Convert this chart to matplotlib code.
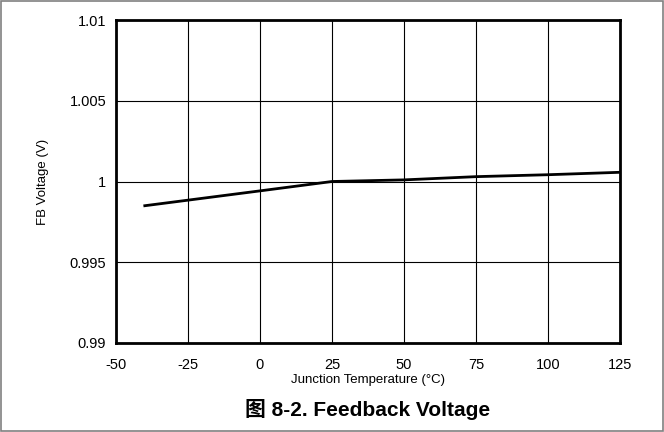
import matplotlib
matplotlib.use("Agg")
import matplotlib.pyplot as plt
from matplotlib.patches import Rectangle

plt.rcParams['font.family'] = ['Liberation Sans', 'Noto Sans CJK SC', 'DejaVu Sans']

temps = [-40, 0, 25, 50, 75, 100, 125]
fb_voltage = [0.9985, 0.99942, 1.0, 1.0001, 1.0003, 1.00042, 1.00057]
xticks = [-50, -25, 0, 25, 50, 75, 100, 125]
yticks = [0.99, 0.995, 1.0, 1.005, 1.01]
ytick_labels = ["0.99", "0.995", "1", "1.005", "1.01"]

fig = plt.figure(figsize=(6.64, 4.32), dpi=100)
ax = fig.add_axes([116/664, 89/432, 504/664, 323/432])

ax.plot(temps, fb_voltage, color='black', lw=2, zorder=3)
ax.set_xlim(-50, 125)
ax.set_ylim(0.99, 1.01)
ax.set_xticks(xticks)
ax.set_xticklabels([str(t) for t in xticks])
ax.set_yticks(yticks)
ax.set_yticklabels(ytick_labels)
ax.grid(True, color='black', lw=0.8)
ax.tick_params(axis='x', length=0, labelsize=10.5, pad=11)
ax.tick_params(axis='y', length=0, labelsize=10.5, pad=7)
for s in ax.spines.values():
    s.set_linewidth(2)
ax.set_xlabel('Junction Temperature (°C)', fontsize=9.5, labelpad=1)
ax.set_ylabel('FB Voltage (V)', fontsize=9.5, labelpad=15)

fig.text(368/664, 1 - 410/432, '图 8-2. Feedback Voltage', ha='center', va='center',
         fontsize=15, fontweight='bold')
fig.patches.append(Rectangle((0.002, 0.002), 0.996, 0.996, transform=fig.transFigure,
                             fill=False, edgecolor='#808080', lw=1.2))

fig.savefig('out.png', dpi=100)
